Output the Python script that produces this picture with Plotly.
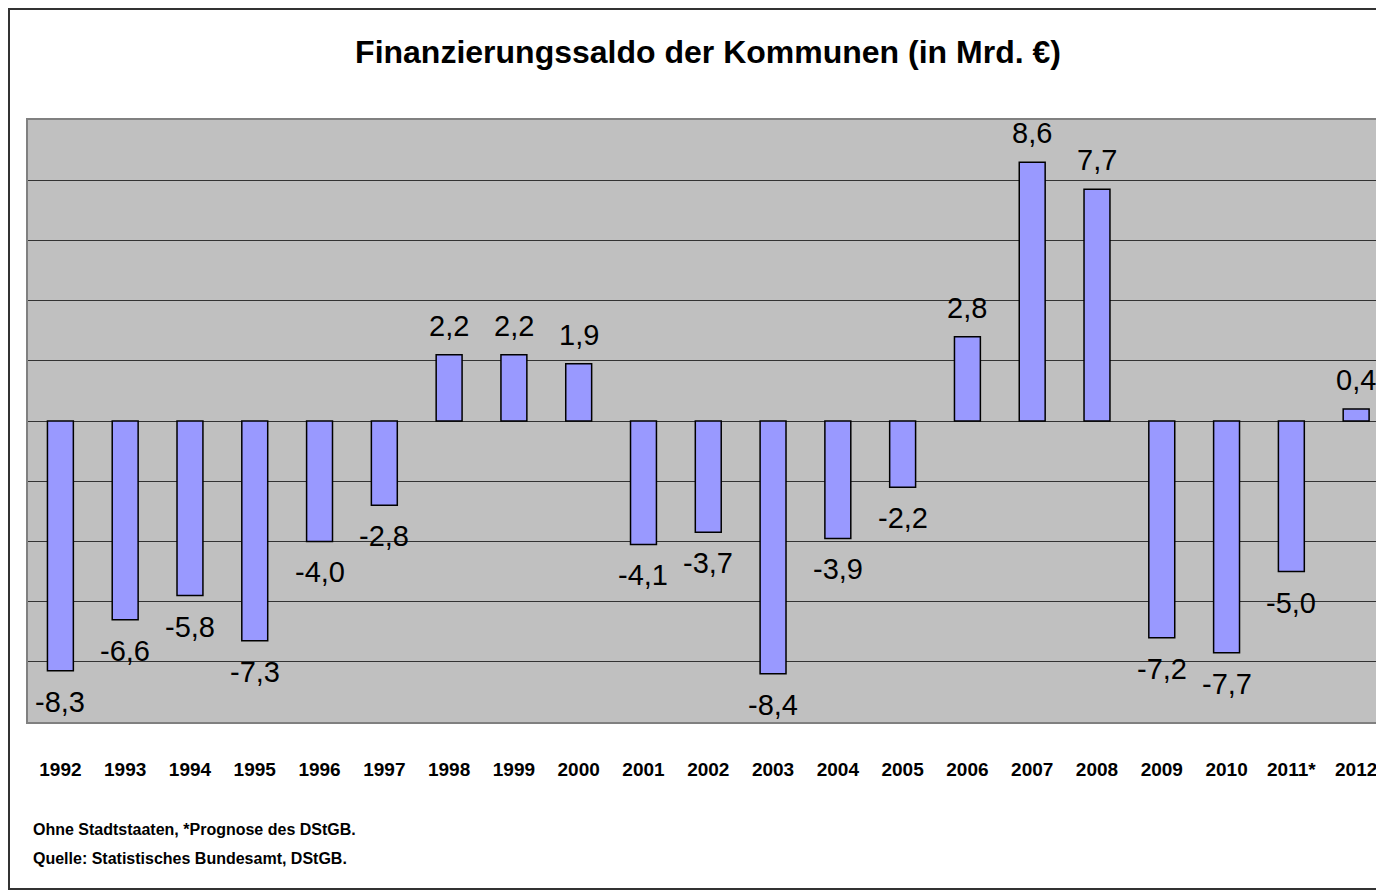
import plotly.graph_objects as go

years = ["1992", "1993", "1994", "1995", "1996", "1997", "1998", "1999", "2000",
         "2001", "2002", "2003", "2004", "2005", "2006", "2007", "2008", "2009",
         "2010", "2011*", "2012"]
saldo = [-8.3, -6.6, -5.8, -7.3, -4.0, -2.8, 2.2, 2.2, 1.9,
         -4.1, -3.7, -8.4, -3.9, -2.2, 2.8, 8.6, 7.7, -7.2,
         -7.7, -5.0, 0.4]

title_text = "Finanzierungssaldo der Kommunen (in Mrd. €)"
note_lines = ["Ohne Stadtstaaten, *Prognose des DStGB.",
              "Quelle: Statistisches Bundesamt, DStGB."]

FONT = "Liberation Sans, Arial, sans-serif"

# page has an 8px body margin, so figure is 1376x882 at offset (8, 8)
W, H = 1376, 882
L, T, B = 20, 112, 168
PH = H - T - B  # plot height in px


def fmt(v):
    return ("%.1f" % v).replace(".", ",")


fig = go.Figure()
fig.add_trace(go.Bar(
    x=years, y=saldo,
    marker=dict(color="#9999FF", line=dict(color="#000000", width=1.5)),
    hoverinfo="x+y",
))

# value labels: x given as category index on the category axis
for idx, v in enumerate(saldo):
    fig.add_annotation(
        x=idx, y=v, xref="x", yref="y",
        text=fmt(v), showarrow=False,
        yanchor="middle", xanchor="center",
        yshift=29 if v >= 0 else -31,
        font=dict(family=FONT, size=29, color="#000000"),
    )

fig.update_layout(
    width=W, height=H,
    margin=dict(l=L, r=0, t=T, b=B),
    paper_bgcolor="white",
    plot_bgcolor="#C0C0C0",
    separators=",.",
    bargap=0.6,
    showlegend=False,
    font=dict(family=FONT, color="#000000"),
    title=dict(text="<b>" + title_text + "</b>", x=700 / W, xanchor="center",
               y=1 - 44 / H, yanchor="middle",
               font=dict(family=FONT, size=32, color="#000000")),
    xaxis=dict(
        type="category",
        range=[-0.5, 20.43],
        showline=True, linecolor="#808080", linewidth=2, mirror=True,
        showgrid=False, ticks="",
        tickfont=dict(family=FONT, size=19, color="#000000", weight="bold"),
        ticklabelstandoff=29,
        fixedrange=True,
    ),
    yaxis=dict(
        range=[-10, 10],
        dtick=2,
        showticklabels=False,
        showgrid=True, gridcolor="#333333", gridwidth=1,
        zeroline=True, zerolinecolor="#333333", zerolinewidth=1,
        showline=True, linecolor="#808080", linewidth=2,
        ticks="",
        fixedrange=True,
    ),
)

plot_bottom = H - B
for i, line in enumerate(note_lines):
    fig.add_annotation(
        text="<b>" + line + "</b>",
        xref="paper", yref="paper",
        x=(23 - L) / (W - L), xanchor="left",
        y=(plot_bottom - (821 + 29 * i)) / PH, yanchor="middle",
        showarrow=False,
        font=dict(family=FONT, size=16, color="#000000"),
    )

# outer frame of the chart (right edge lies beyond the visible page)
fig.add_shape(type="rect", xref="paper", yref="paper",
              x0=(1 - L) / (W - L), x1=1.05,
              y0=(plot_bottom - 881) / PH, y1=(plot_bottom - 1) / PH,
              line=dict(color="#333333", width=2), fillcolor="rgba(0,0,0,0)",
              layer="below")

fig.write_html("out.html")
